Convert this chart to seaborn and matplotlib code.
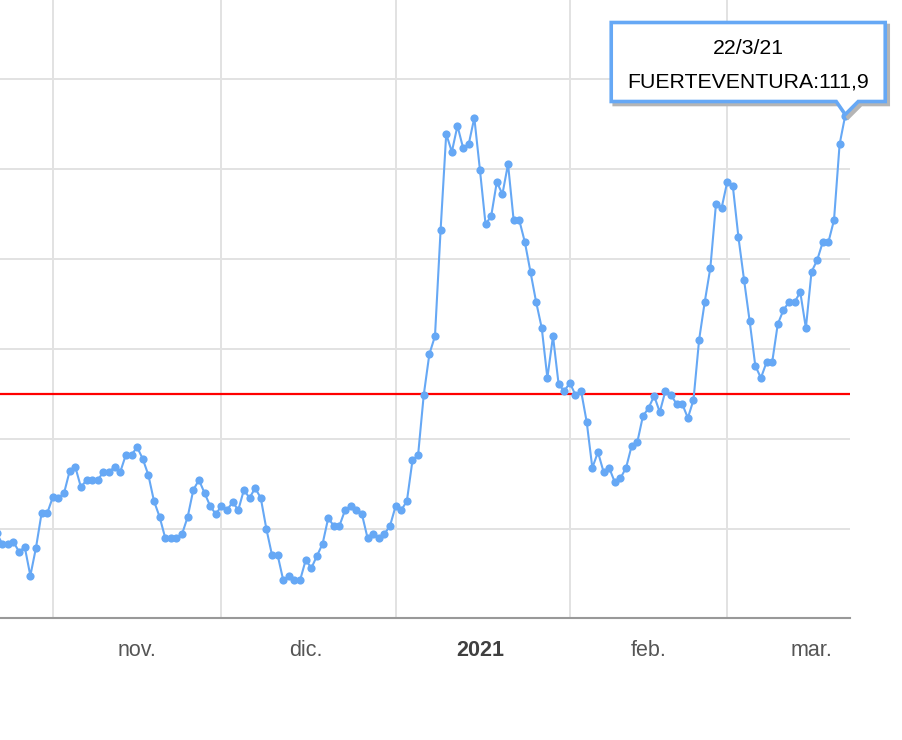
import pandas as pd
import matplotlib
matplotlib.use("Agg")
import matplotlib.pyplot as plt
import matplotlib.dates as mdates
import seaborn as sns
from matplotlib.patches import Polygon
from matplotlib.transforms import IdentityTransform

# daily values, 22/10/20 .. 22/3/21
start_date = "2020-10-22"
incidence = [
    19.0, 16.6, 16.6, 17.0, 14.8, 15.9, 9.5, 15.7, 23.4, 23.4,
    27.0, 26.8, 27.9, 32.8, 33.7, 29.2, 30.8, 30.8, 30.8, 32.6,
    32.6, 33.7, 32.6, 36.4, 36.4, 38.1, 35.5, 31.9, 26.1, 22.6,
    17.9, 17.9, 17.9, 18.8, 22.6, 28.6, 30.8, 27.9, 25.0, 23.2,
    25.0, 24.1, 25.9, 24.1, 28.6, 26.8, 29.0, 26.8, 19.9, 14.1,
    14.1, 8.5, 9.4, 8.5, 8.5, 13.0, 11.2, 13.9, 16.6, 22.3,
    20.6, 20.6, 24.1, 25.0, 24.1, 23.2, 17.9, 18.8, 17.9, 18.8,
    20.6, 25.0, 24.1, 26.1, 35.2, 36.4, 49.7, 58.8, 62.8, 86.4,
    107.8, 103.8, 109.6, 104.7, 105.5, 111.4, 99.8, 87.7, 89.5, 97.1,
    94.4, 101.1, 88.6, 88.6, 83.7, 77.1, 70.4, 64.6, 53.5, 62.8,
    52.1, 50.6, 52.4, 49.7, 50.6, 43.7, 33.5, 37.0, 32.6, 33.5,
    30.3, 31.2, 33.5, 38.4, 39.2, 45.0, 46.8, 49.5, 45.9, 50.6,
    49.7, 47.7, 47.7, 44.6, 48.6, 62.0, 70.4, 78.0, 92.2, 91.3,
    97.1, 96.2, 84.8, 75.3, 66.1, 56.2, 53.5, 57.0, 57.0, 65.5,
    68.6, 70.4, 70.4, 72.6, 64.6, 77.1, 79.7, 83.7, 83.7, 88.6,
    105.5, 111.9,
]
threshold = 50
island = "FUERTEVENTURA"
month_starts = ["2020-11-01", "2020-12-01", "2021-01-01", "2021-02-01", "2021-03-01"]
month_label_dates = ["2020-11-16", "2020-12-16", "2021-01-16", "2021-02-15", "2021-03-16"]
month_labels = ["nov.", "dic.", "2021", "feb.", "mar."]
y_grid = [0, 20, 40, 60, 80, 100, 120]

dates = pd.date_range(start_date, periods=len(incidence), freq="D")
df = pd.DataFrame({"fecha": dates, "incidencia": incidence})

blue = "#66a8f5"
grid_col = "#e2e2e2"

sns.set_style("white")
plt.rcParams["font.family"] = ["Liberation Sans", "DejaVu Sans"]

fig = plt.figure(figsize=(9.02, 7.40), dpi=100)
ax = fig.add_axes([0, 121.6 / 740, 850 / 902, 618.4 / 740])

sns.lineplot(data=df, x="fecha", y="incidencia", ax=ax, color=blue, lw=1.5,
             marker="o", markersize=5.9, markeredgewidth=0, zorder=3)
ax.axhline(threshold, color="red", lw=1.6, zorder=2)

x0 = mdates.date2num(pd.Timestamp(start_date)) + 0.6
ax.set_xlim(x0, x0 + 151.25)
ax.set_ylim(0, 137.6)

ax.set_yticks(y_grid)
ax.yaxis.grid(True, color=grid_col, lw=1.4)
ax.tick_params(axis="y", length=0, labelleft=False)

ax.set_xticks(mdates.date2num(pd.to_datetime(month_starts)))
ax.set_xticklabels([])
ax.xaxis.grid(True, which="major", color=grid_col, lw=1.4)
ax.set_xticks(mdates.date2num(pd.to_datetime(month_label_dates)), minor=True)
ax.set_xticklabels(month_labels, minor=True, fontsize=15.5, color="#555555")
ax.tick_params(axis="x", which="major", length=9, width=1, color="#aaaaaa", direction="out")
ax.tick_params(axis="x", which="minor", length=0, pad=15.5)
for lab in ax.get_xticklabels(minor=True):
    if lab.get_text() == "2021":
        lab.set_fontweight("bold")
        lab.set_color("#404040")

ax.set_xlabel("")
ax.set_ylabel("")
for side in ["top", "left", "right"]:
    ax.spines[side].set_visible(False)
ax.spines["bottom"].set_color("#999999")
ax.spines["bottom"].set_linewidth(1.5)
ax.set_axisbelow(True)

# tooltip on the last point
last = dates[-1]
tx, ty = ax.transData.transform((mdates.date2num(last), incidence[-1]))
shape = [(-234, 14), (-234, 93), (40, 93), (40, 14), (13, 14), (0, 1), (-9, 14)]
shadow = Polygon([(tx + dx + 3, ty + dy - 3) for dx, dy in shape], closed=True,
                 transform=IdentityTransform(), facecolor="#b5b5b5",
                 edgecolor="#b5b5b5", lw=2.6, zorder=9)
box = Polygon([(tx + dx, ty + dy) for dx, dy in shape], closed=True,
              transform=IdentityTransform(), facecolor="white",
              edgecolor=blue, lw=2.6, joinstyle="miter", zorder=10)
fig.add_artist(shadow)
fig.add_artist(box)
fig.text(tx - 97, ty + 67, f"{last.day}/{last.month}/{last:%y}",
         transform=IdentityTransform(), ha="center", va="center",
         fontsize=15.3, color="black", zorder=11)
fig.text(tx - 97, ty + 34, f"{island}:{incidence[-1]:.1f}".replace(".", ","),
         transform=IdentityTransform(), ha="center", va="center",
         fontsize=15.3, color="black", zorder=11)

fig.savefig("out.png", dpi=100)
